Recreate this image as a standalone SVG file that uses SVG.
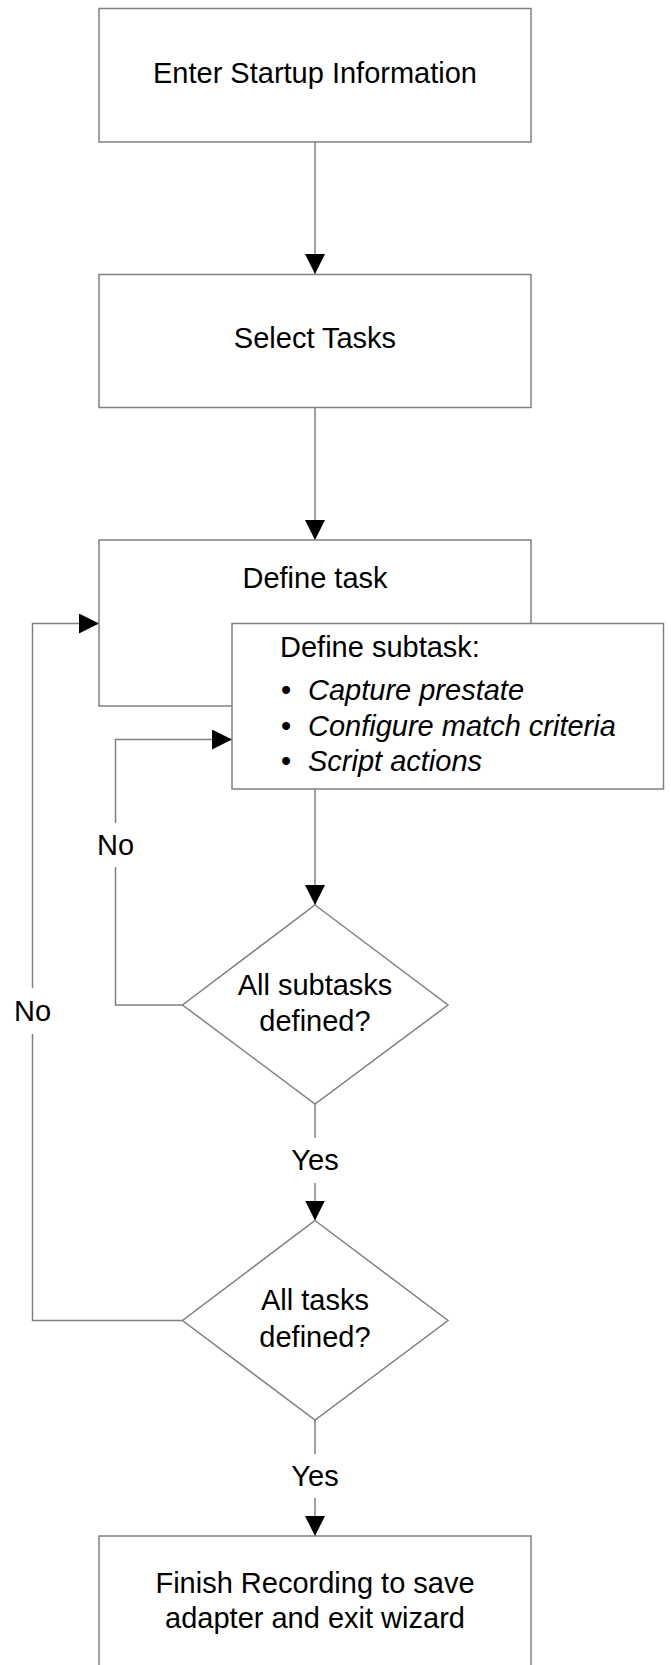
<svg xmlns="http://www.w3.org/2000/svg" width="671" height="1665" viewBox="0 0 671 1665">
<style>
.box{fill:#fff;stroke:#808080;stroke-width:1.5}
.ln{fill:none;stroke:#808080;stroke-width:1.5}
text{font-family:"Liberation Sans",Arial,sans-serif;font-size:29px;fill:#000}
.c{text-anchor:middle}
.i{font-style:italic}
</style>
<defs>
<marker id="ah" markerUnits="userSpaceOnUse" markerWidth="20" markerHeight="20" refX="20" refY="10" orient="auto">
<path d="M0,0 L20,10 L0,20 z" fill="#000"/>
</marker>
</defs>
<g id="connectors">
<path class="ln" d="M315,142 V274" marker-end="url(#ah)"/>
<path class="ln" d="M315,407 V540" marker-end="url(#ah)"/>
<path class="ln" d="M315,789 V905" marker-end="url(#ah)"/>
<path class="ln" d="M182.5,1005 H115.5 V867"/>
<path class="ln" d="M115.5,823 V739.5 H232" marker-end="url(#ah)"/>
<path class="ln" d="M182.5,1320.5 H32.5 V1034"/>
<path class="ln" d="M32.5,988 V623.5 H99" marker-end="url(#ah)"/>
<path class="ln" d="M315,1104 V1138"/>
<path class="ln" d="M315,1183 V1220.5" marker-end="url(#ah)"/>
<path class="ln" d="M315,1420 V1454"/>
<path class="ln" d="M315,1498 V1536" marker-end="url(#ah)"/>
<text class="c" x="115.5" y="855">No</text>
<text class="c" x="32.5" y="1021">No</text>
<text class="c" x="315" y="1170">Yes</text>
<text class="c" x="315" y="1486">Yes</text>
</g>
<g id="n1">
<rect class="box" x="99" y="8.5" width="432" height="133.5"/>
<text class="c" x="315" y="83">Enter Startup Information</text>
</g>
<g id="n2">
<rect class="box" x="99" y="274.5" width="432" height="133"/>
<text class="c" x="315" y="348">Select Tasks</text>
</g>
<g id="n3">
<rect class="box" x="99" y="540" width="432" height="166"/>
<text class="c" x="315" y="588">Define task</text>
</g>
<g id="n4">
<rect class="box" x="232" y="623.5" width="431.5" height="165.5"/>
<text x="280" y="657">Define subtask:</text>
<text x="281" y="700">•</text>
<text class="i" x="308" y="700">Capture prestate</text>
<text x="281" y="736">•</text>
<text class="i" x="308" y="736">Configure match criteria</text>
<text x="281" y="771">•</text>
<text class="i" x="308" y="771">Script actions</text>
</g>
<g id="n5">
<polygon class="box" points="315,905 448,1005 315,1104 182.5,1005"/>
<text class="c" x="315" y="995">All subtasks</text>
<text class="c" x="315" y="1031">defined?</text>
</g>
<g id="n6">
<polygon class="box" points="315,1220.5 448,1320.5 315,1420 182.5,1320.5"/>
<text class="c" x="315" y="1310">All tasks</text>
<text class="c" x="315" y="1347">defined?</text>
</g>
<g id="n7">
<rect class="box" x="99" y="1536" width="432" height="140"/>
<text class="c" x="315" y="1593">Finish Recording to save</text>
<text class="c" x="315" y="1628">adapter and exit wizard</text>
</g>
</svg>
